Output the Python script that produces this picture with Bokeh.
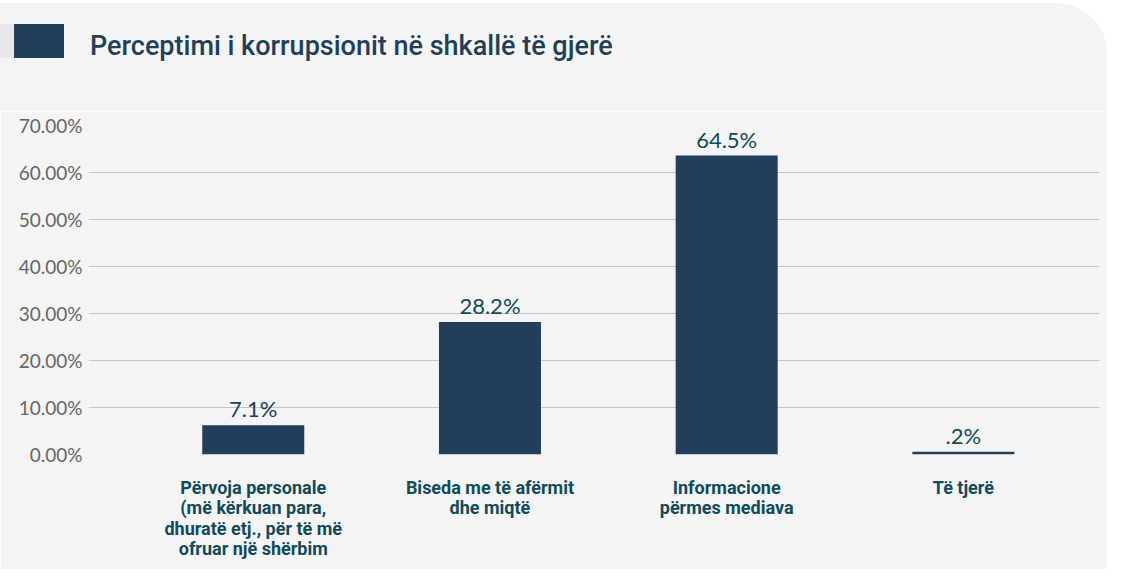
from bokeh.plotting import figure
from bokeh.layouts import column
from bokeh.models import (FixedTicker, PrintfTickFormatter, Range1d,
                          ColumnDataSource, Div)
from bokeh.core.properties import value
from bokeh.embed import file_html
from bokeh.resources import INLINE

# ---- data ----
title_text = "Perceptimi i korrupsionit në shkallë të gjerë"
categories = [
    "Përvoja personale\n(më kërkuan para,\ndhuratë etj., për të më\nofruar një shërbim",
    "Biseda me të afërmit\ndhe miqtë",
    "Informacione\npërmes mediava",
    "Të tjerë",
]
bar_heights = [6.2, 28.2, 63.6, 0.6]              # bar heights as drawn (%)
value_labels = ["7.1%", "28.2%", "64.5%", ".2%"]  # printed data labels
y_ticks = [0, 10, 20, 30, 40, 50, 60, 70]

NAVY = "#213f5b"
TEAL = "#0f4b5b"
BG = "#f4f4f4"
W = 1107
HH = 111

# ---- header (title band) ----
header_html = (
    f'<div style="position:relative;width:{W}px;height:{HH}px;background:{BG};'
    'border-top:3px solid white;box-sizing:border-box;'
    'border-top-right-radius:52px;overflow:hidden;">'
    '<div style="position:absolute;left:0px;top:21px;width:14px;height:34px;'
    'background:#e8e8e8;"></div>'
    f'<div style="position:absolute;left:14px;top:21px;width:50px;height:34px;'
    f'background:{NAVY};"></div>'
    f'<div style="position:absolute;left:90px;top:30px;font-family:Roboto;'
    f'font-weight:500;font-size:27px;line-height:27px;color:{NAVY};'
    f'white-space:nowrap;">{title_text}</div></div>'
)
h = Div(text=header_html, width=W, height=HH, margin=(0, 0, 0, 0))

# ---- main chart ----
idx = list(range(len(categories)))
label_colors = [NAVY, TEAL, TEAL, TEAL]
src = ColumnDataSource(dict(x=idx, top=bar_heights, lab=value_labels,
                            col=label_colors))

p = figure(width=W, height=569 - HH, output_backend="svg", toolbar_location=None,
           x_range=Range1d(-0.696, 3.575), y_range=Range1d(0, 70),
           min_border_left=88, min_border_right=8, min_border_top=14,
           min_border_bottom=115)
p.background_fill_color = BG
p.border_fill_color = BG
p.outline_line_color = None

p.vbar(x="x", top="top", bottom=0, width=0.431, source=src,
       fill_color=NAVY, line_color=None)

p.text(x="x", y="top", text="lab", source=src, text_align="center",
       text_baseline="bottom", y_offset=-3,
       text_font=value("Lato"), text_font_size="22px",
       text_color="col")

p.xaxis.ticker = FixedTicker(ticks=idx)
p.xaxis.major_label_overrides = {i: c for i, c in zip(idx, categories)}
p.xaxis.axis_line_color = None
p.xaxis.major_tick_line_color = None
p.xaxis.minor_tick_line_color = None
p.xaxis.major_tick_out = 0
p.xaxis.major_label_standoff = 22
p.xaxis.major_label_text_font = "Roboto"
p.xaxis.major_label_text_font_size = "18px"
p.xaxis.major_label_text_font_style = "bold"
p.xaxis.major_label_text_color = TEAL
p.xaxis.major_label_text_line_height = 0.98
p.xgrid.grid_line_color = None

p.yaxis.ticker = FixedTicker(ticks=y_ticks)
p.yaxis.formatter = PrintfTickFormatter(format="%.2f%%")
p.yaxis.axis_line_color = None
p.yaxis.major_tick_line_color = None
p.yaxis.minor_tick_line_color = None
p.yaxis.major_tick_out = 0
p.yaxis.major_label_standoff = 6
p.yaxis.major_label_text_font = "Lato"
p.yaxis.major_label_text_font_size = "19px"
p.yaxis.major_label_text_color = "#666666"
p.ygrid.grid_line_color = "#c6c6c6"
p.ygrid.grid_line_width = 1.2

layout = column(h, p, spacing=0)
open("out.html", "w").write(file_html(layout, INLINE))
